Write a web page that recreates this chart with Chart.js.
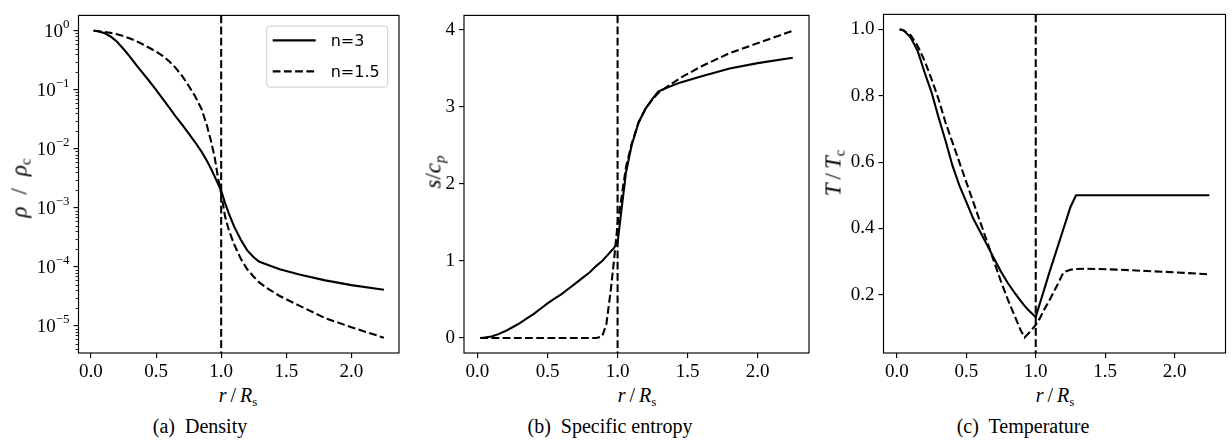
<!DOCTYPE html>
<html>
<head>
<meta charset="utf-8">
<script src="https://cdn.jsdelivr.net/npm/chart.js@4.4.1/dist/chart.umd.min.js"></script>
<style>
    body { margin: 0; width: 1232px; height: 446px; background: #fff; position: relative; overflow: hidden; }
    canvas { position: absolute; }
    .lbl { position: absolute; font-family: 'Liberation Serif', serif; font-size: 20px; color: #000; white-space: nowrap; line-height: 1; }
    .lbl i { font-style: italic; }
    .lbl sub { font-size: 13px; vertical-align: -4px; line-height: 0; }
    .sl { margin: 0 4px; }
    .ytitle { font-size: 23px; transform: translate(-50%, -50%) rotate(-90deg); }
    .ytitle sub { font-size: 15px; }
    .xtitle { transform: translate(-50%, -50%); }
    .cap { font-size: 20px; transform: translate(-50%, -50%); }
</style>
</head>
<body>

<canvas id="cDensity" width="410" height="380" style="left:0;top:0"></canvas>
<canvas id="cEntropy" width="410" height="380" style="left:410px;top:0"></canvas>
<canvas id="cTemp" width="412" height="381" style="left:820px;top:-1px"></canvas>

<div class="lbl ytitle" style="left:19px;top:188px"><i>ρ</i><span class="sl" style="margin:0 12px">/</span><i>ρ</i><sub>c</sub></div>
<div class="lbl ytitle" style="left:433px;top:172px"><i>s</i>/<i>c</i><sub><i>p</i></sub></div>
<div class="lbl ytitle" style="left:833px;top:173px"><i>T</i><span class="sl">/</span><i>T</i><sub>c</sub></div>

<div class="lbl xtitle" style="left:238px;top:395px"><i>r</i><span class="sl">/</span><i>R</i><sub>s</sub></div>
<div class="lbl xtitle" style="left:637px;top:395px"><i>r</i><span class="sl">/</span><i>R</i><sub>s</sub></div>
<div class="lbl xtitle" style="left:1055px;top:395px"><i>r</i><span class="sl">/</span><i>R</i><sub>s</sub></div>

<div class="lbl cap" style="left:200px;top:426px">(a)&nbsp; Density</div>
<div class="lbl cap" style="left:610px;top:426px">(b)&nbsp; Specific entropy</div>
<div class="lbl cap" style="left:1023px;top:426px">(c)&nbsp; Temperature</div>

<script>
// rayon / R_s (grille commune)
const r = [0.02, 0.05, 0.1, 0.15, 0.2, 0.25, 0.3, 0.35, 0.4, 0.45, 0.5, 0.55, 0.6, 0.65, 0.7, 0.75, 0.8, 0.85,
           0.89, 0.92, 0.95, 0.975, 1.0, 1.03, 1.06, 1.1, 1.15, 1.2, 1.25, 1.29, 1.35, 1.45, 1.6, 1.8, 2.0, 2.25]

// densité rho / rho_c
const rhoN3  = [1.0, 0.985, 0.92, 0.8, 0.65, 0.49, 0.36, 0.26, 0.19, 0.138, 0.1, 0.0708, 0.0501, 0.0355, 0.0257,
                0.0182, 0.0129, 8.9e-3, 6.3e-3, 4.7e-3, 3.4e-3, 2.57e-3, 1.95e-3, 1.2e-3, 7.9e-4, 4.8e-4, 2.9e-4,
                1.9e-4, 1.45e-4, 1.23e-4, 1.1e-4, 9.1e-5, 7.4e-5, 5.9e-5, 4.9e-5, 4.1e-5]
const rhoN15 = [1.0, 0.99, 0.96, 0.92, 0.87, 0.81, 0.74, 0.665, 0.585, 0.51, 0.445, 0.375, 0.305, 0.235, 0.172,
                0.117, 0.0776, 0.0468, 0.0251, 0.0141, 7.2e-3, 3.3e-3, 1.74e-3, 7.1e-4, 4.1e-4, 2.4e-4, 1.38e-4,
                9.1e-5, 6.8e-5, 5.5e-5, 4.4e-5, 3.2e-5, 2.2e-5, 1.35e-5, 9.5e-6, 6.3e-6]

// entropie s / c_p
const sN3  = [0.0, 0.005, 0.02, 0.05, 0.09, 0.14, 0.19, 0.25, 0.31, 0.38, 0.45, 0.51, 0.57, 0.64, 0.71, 0.78, 0.85,
              0.94, 1.0, 1.06, 1.12, 1.17, 1.24, 1.70, 2.15, 2.50, 2.80, 2.98, 3.11, 3.20, 3.25, 3.32, 3.40, 3.50,
              3.57, 3.64]
const sN15 = [0, 0, 0, 0, 0, 0, 0, 0, 0, 0, 0, 0, 0, 0, 0, 0, 0, 0, 0.02, 0.18, 0.60, 1.02, 1.48, 1.85, 2.22, 2.52,
              2.80, 2.98, 3.10, 3.18, 3.26, 3.38, 3.53, 3.70, 3.83, 3.99]

// température T / T_c
const tN3  = [1.0, 0.997, 0.975, 0.935, 0.87, 0.81, 0.735, 0.665, 0.59, 0.53, 0.48, 0.43, 0.39, 0.35, 0.31, 0.27,
              0.235, 0.205, 0.183, 0.167, 0.153, 0.143, 0.133, 0.175, 0.215, 0.27, 0.335, 0.40, 0.465, 0.50, 0.50,
              0.50, 0.50, 0.50, 0.50, 0.50]
const tN15 = [1.0, 0.996, 0.982, 0.95, 0.905, 0.85, 0.79, 0.72, 0.66, 0.60, 0.54, 0.48, 0.42, 0.36, 0.30, 0.24,
              0.185, 0.135, 0.095, 0.072, 0.085, 0.097, 0.11, 0.13, 0.155, 0.185, 0.225, 0.268, 0.276, 0.278, 0.279,
              0.278, 0.276, 0.272, 0.268, 0.262]

const SERIES = ['n=3', 'n=1.5']
const R_SURFACE = 1.0

const xTicks   = [0, 0.5, 1, 1.5, 2]
const rhoTicks = [1e-5, 1e-4, 1e-3, 1e-2, 1e-1, 1]
const rhoExp   = ['−5', '−4', '−3', '−2', '−1', '0']
const sTicks   = [0, 1, 2, 3, 4]
const tTicks   = [0.2, 0.4, 0.6, 0.8, 1.0]

const SERIF = "'Liberation Serif', serif"
const TICK_SIZE = 19
const DASH = [7.8, 3.4]
const LW = 2.1

function pts(ys) {
    return r.map((x, i) => ({ x, y: ys[i] }))
}

// -- cadre, ligne verticale, ticks mineurs, étiquettes 10^n, légende --
const decor = {
    id: 'decor',
    afterDatasetsDraw(chart, args, opts) {
        const { ctx, chartArea: a, scales } = chart
        ctx.save()

        // ligne verticale r = R_s
        const xp = scales.x.getPixelForValue(R_SURFACE)
        ctx.strokeStyle = '#000'
        ctx.lineWidth = LW
        ctx.setLineDash(DASH)
        ctx.beginPath()
        ctx.moveTo(xp, a.top)
        ctx.lineTo(xp, a.bottom)
        ctx.stroke()
        ctx.setLineDash([])

        // axe log : ticks mineurs + étiquettes 10^n
        if (opts.log) {
            const y = scales.y
            ctx.lineWidth = 0.85
            for (let d = -6; d <= 0; d++) {
                for (let k = 2; k <= 9; k++) {
                    const v = k * Math.pow(10, d)
                    if (v < y.min || v > y.max) continue
                    const yp = Math.round(y.getPixelForValue(v)) + 0.5
                    ctx.beginPath()
                    ctx.moveTo(a.left, yp)
                    ctx.lineTo(a.left - 3, yp)
                    ctx.stroke()
                }
            }
            ctx.fillStyle = '#000'
            ctx.textBaseline = 'middle'
            ctx.textAlign = 'left'
            rhoTicks.forEach((v, i) => {
                const yp = y.getPixelForValue(v)
                ctx.font = '13px ' + SERIF
                const we = ctx.measureText(rhoExp[i]).width
                ctx.font = TICK_SIZE + 'px ' + SERIF
                const wb = ctx.measureText('10').width
                const right = a.left - 5 - 4
                ctx.fillText('10', right - we - wb, yp + 1)
                ctx.font = '13px ' + SERIF
                ctx.fillText(rhoExp[i], right - we, yp - 6)
            })
        }

        // cadre
        ctx.lineWidth = 1.15
        ctx.strokeStyle = '#000'
        ctx.strokeRect(a.left, a.top, a.right - a.left, a.bottom - a.top)

        // légende
        if (opts.legend) {
            const w = 121, h = 61
            const lx = a.right - 11.3 - w, ly = a.top + 10.7
            ctx.fillStyle = 'rgba(255,255,255,0.8)'
            ctx.strokeStyle = '#cccccc'
            ctx.lineWidth = 1
            ctx.beginPath()
            ctx.roundRect(lx, ly, w, h, 3)
            ctx.fill()
            ctx.stroke()

            ctx.font = "16px 'DejaVu Sans', sans-serif"
            ctx.fillStyle = '#000'
            ctx.textBaseline = 'middle'
            ctx.textAlign = 'left'
            chart.data.datasets.forEach((ds, i) => {
                const cy = ly + 14.3 + i * 31
                ctx.strokeStyle = '#000'
                ctx.lineWidth = LW
                ctx.setLineDash(ds.borderDash || [])
                ctx.beginPath()
                ctx.moveTo(lx + 6, cy)
                ctx.lineTo(lx + 49, cy)
                ctx.stroke()
                ctx.setLineDash([])
                ctx.fillText(ds.label, lx + 64, cy + 1)
            })
        }
        ctx.restore()
    }
}

function makePanel(id, cfg) {
    const tickFont = { family: SERIF, size: TICK_SIZE }
    const grid = { drawOnChartArea: false, drawTicks: true, tickLength: 5, color: '#000', lineWidth: 1.15 }
    const isLog = cfg.yType === 'logarithmic'

    return new Chart(document.getElementById(id), {
        type: 'line',
        data: {
            datasets: [
                { label: SERIES[0], data: pts(cfg.y3), borderColor: '#000', borderWidth: LW, pointRadius: 0, tension: 0, fill: false },
                { label: SERIES[1], data: pts(cfg.y15), borderColor: '#000', borderWidth: LW, borderDash: DASH, pointRadius: 0, tension: 0, fill: false }
            ]
        },
        options: {
            responsive: false,
            animation: false,
            devicePixelRatio: 1,
            layout: { padding: cfg.padding },
            plugins: {
                legend: { display: false },
                tooltip: { enabled: false },
                decor: { legend: !!cfg.legend, log: isLog }
            },
            scales: {
                x: {
                    type: 'linear',
                    min: -0.096,
                    max: 2.366,
                    afterBuildTicks: s => { s.ticks = xTicks.map(v => ({ value: v })) },
                    afterFit: s => { s.height = cfg.xHeight },
                    ticks: { font: tickFont, color: '#000', padding: 3, maxRotation: 0, callback: v => v.toFixed(1) },
                    grid,
                    border: { display: false }
                },
                y: {
                    type: cfg.yType,
                    min: cfg.yMin,
                    max: cfg.yMax,
                    afterBuildTicks: s => { s.ticks = cfg.yTicks.map(v => ({ value: v })) },
                    afterFit: s => { s.width = cfg.yWidth },
                    ticks: { font: tickFont, color: '#000', padding: 4, callback: isLog ? () => '' : cfg.yLabel },
                    grid,
                    border: { display: false }
                }
            }
        },
        plugins: [decor]
    })
}

makePanel('cDensity', {
    y3: rhoN3, y15: rhoN15, legend: true,
    yType: 'logarithmic', yMin: 3.47e-6, yMax: 1.82, yTicks: rhoTicks,
    yWidth: 78.5, xHeight: 27, padding: { left: 0, top: 5, right: 11, bottom: 0 }
})

makePanel('cEntropy', {
    y3: sN3, y15: sN15,
    yType: 'linear', yMin: -0.195, yMax: 4.19, yTicks: sTicks,
    yLabel: v => String(v),
    yWidth: 54, xHeight: 27, padding: { left: 0, top: 5, right: 11, bottom: 0 }
})

makePanel('cTemp', {
    y3: tN3, y15: tN15,
    yType: 'linear', yMin: 0.025, yMax: 1.045, yTicks: tTicks,
    yLabel: v => v.toFixed(1),
    yWidth: 63.5, xHeight: 27, padding: { left: 0, top: 0, right: 6.5, bottom: 0 }
})
</script>
</body>
</html>
